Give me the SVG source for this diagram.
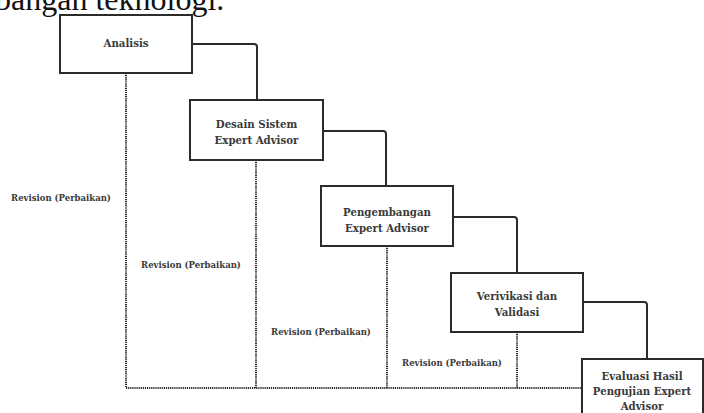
<svg xmlns="http://www.w3.org/2000/svg" width="704" height="413" viewBox="0 0 704 413">
<style>
.box{fill:#fff;stroke:#2b2b2b;stroke-width:2}
.t{font-family:"DejaVu Serif","Liberation Serif",serif;font-weight:bold;font-size:10.2px;fill:#3a3a3a;text-anchor:middle}
.lbl{font-family:"DejaVu Serif","Liberation Serif",serif;font-weight:bold;font-size:8.5px;fill:#3a3a3a;text-anchor:middle}
.solid{fill:none;stroke:#2b2b2b;stroke-width:2}
.dot{fill:none;stroke:#2b2b2b;stroke-width:2;stroke-dasharray:1.2 0.9}
</style>
<rect width="704" height="413" fill="#fff"/>
<text x="-5" y="10" font-family="Liberation Serif,serif" font-size="32" fill="#111">bangan teknologi.</text>
<g id="connectors">
<path class="solid" d="M192 44 H254 Q257 44 257 47 V100"/>
<path class="solid" d="M323 131 H383 Q386 131 386 134 V186"/>
<path class="solid" d="M453 217 H514 Q517 217 517 220 V273"/>
<path class="solid" d="M583 302 H644 Q647 302 647 305 V359"/>
<path class="dot" d="M126 73 V388 H582"/>
<path class="dot" d="M256 160 V388"/>
<path class="dot" d="M387 246 V388"/>
<path class="dot" d="M517 332 V388"/>
<text class="lbl" x="61" y="201">Revision (Perbaikan)</text>
<text class="lbl" x="191" y="268">Revision (Perbaikan)</text>
<text class="lbl" x="321" y="335">Revision (Perbaikan)</text>
<text class="lbl" x="452" y="366">Revision (Perbaikan)</text>
</g>
<g id="analisis"><rect class="box" x="60" y="15" width="132" height="58"/><text class="t" x="126" y="47">Analisis</text></g>
<g id="desain"><rect class="box" x="190" y="100" width="133" height="60"/><text class="t" x="256.5" y="128">Desain Sistem</text><text class="t" x="256.5" y="144">Expert Advisor</text></g>
<g id="pengembangan"><rect class="box" x="321" y="186" width="132" height="60"/><text class="t" x="387" y="216">Pengembangan</text><text class="t" x="387" y="232">Expert Advisor</text></g>
<g id="verivikasi"><rect class="box" x="451" y="273" width="132" height="59"/><text class="t" x="517" y="300">Verivikasi dan</text><text class="t" x="517" y="316">Validasi</text></g>
<g id="evaluasi"><rect class="box" x="582" y="359" width="121" height="60"/><text class="t" x="642" y="380">Evaluasi Hasil</text><text class="t" x="642" y="395">Pengujian Expert</text><text class="t" x="642" y="410">Advisor</text></g>
</svg>
